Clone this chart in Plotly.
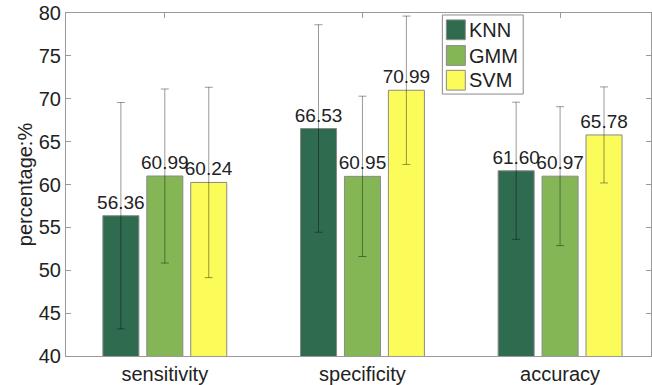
import plotly.graph_objects as go

categories = ["sensitivity", "specificity", "accuracy"]
series_names = ["KNN", "GMM", "SVM"]
knn_values = [56.36, 66.53, 61.60]
gmm_values = [60.99, 60.95, 60.97]
svm_values = [60.24, 70.99, 65.78]
knn_err = [13.2, 12.1, 8.0]
gmm_err = [10.15, 9.35, 8.1]
svm_err = [11.1, 8.65, 5.6]
y_ticks = [40, 45, 50, 55, 60, 65, 70, 75, 80]

colors = ["#2f6b4f", "#84b656", "#fbfb5a"]
values = [knn_values, gmm_values, svm_values]
errors = [knn_err, gmm_err, svm_err]

FONT = "Liberation Sans, Arial, sans-serif"
W, H = 652, 385
ML, MR, MT, MB = 66, 0, 13, 25
PW, PH = W - ML - MR, H - MT - MB


def px(x):
    return (x - ML) / PW


def py(y):
    return (H - MB - y) / PH


fig = go.Figure()
for name, vals, errs, col in zip(series_names, values, errors, colors):
    fig.add_trace(go.Bar(
        name=name,
        x=categories,
        y=vals,
        marker=dict(color=col, line=dict(color="#8a8a8a", width=1)),
        error_y=dict(type="data", array=errs, visible=True,
                     color="rgba(0,0,0,0.4)", thickness=1, width=4),
        text=[f"{v:.2f}" for v in vals],
        textposition="outside",
        constraintext="none",
        cliponaxis=False,
        textfont=dict(family=FONT, size=19, color="#222222"),
        showlegend=False,
    ))

# legend drawn as a boxed key (matching the original's compact layout)
shapes = [dict(type="rect", xref="paper", yref="paper",
               x0=px(443), x1=px(524), y0=py(95), y1=py(15),
               line=dict(color="#8a8a8a", width=1), fillcolor="white", layer="above")]
annotations = []
centers = [30, 56, 81]
for name, col, cy in zip(series_names, colors, centers):
    shapes.append(dict(type="rect", xref="paper", yref="paper",
                       x0=px(447), x1=px(466), y0=py(cy + 10), y1=py(cy - 10),
                       line=dict(color="#8a8a8a", width=1), fillcolor=col, layer="above"))
    annotations.append(dict(xref="paper", yref="paper", x=px(468), y=py(cy),
                            xanchor="left", yanchor="middle", text=name, showarrow=False,
                            font=dict(family=FONT, size=20, color="#222222")))

fig.update_layout(
    width=W, height=H,
    margin=dict(l=ML, r=MR, t=MT, b=MB),
    paper_bgcolor="white", plot_bgcolor="white",
    barmode="group",
    bargap=0.333, bargroupgap=0.18,
    font=dict(family=FONT, size=20, color="#222222"),
    showlegend=False,
    shapes=shapes,
    annotations=annotations,
)
fig.update_xaxes(
    range=[-0.5, 2.46],
    showline=True, linecolor="#9a9a9a", linewidth=1, mirror="ticks",
    ticks="inside", ticklen=5, tickcolor="#9a9a9a",
    showgrid=False, zeroline=False,
    tickfont=dict(family=FONT, size=20, color="#222222"),
    layer="below traces",
)
fig.update_yaxes(
    range=[40, 80], tickvals=y_ticks,
    showline=True, linecolor="#9a9a9a", linewidth=1, mirror="ticks",
    ticks="inside", ticklen=5, tickcolor="#9a9a9a",
    showgrid=False, zeroline=False,
    tickfont=dict(family=FONT, size=20, color="#222222"),
    title=dict(text="percentage:%", font=dict(family=FONT, size=20, color="#222222"), standoff=0),
)

fig.write_html("out.html")
